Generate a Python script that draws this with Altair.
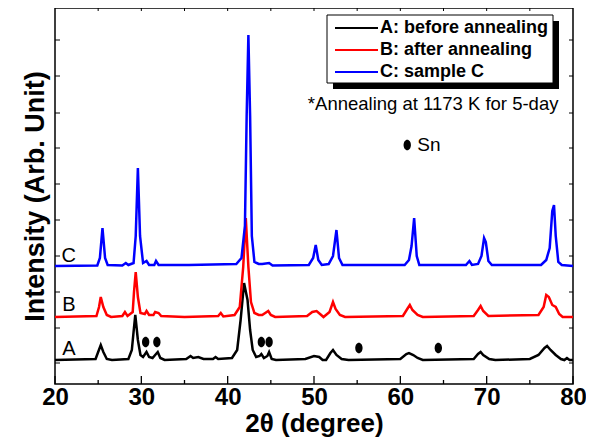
import altair as alt
import pandas as pd

FONT = "Liberation Sans, Arial, Helvetica, sans-serif"

series_names = ["A: before annealing", "B: after annealing", "C: sample C"]
series_colors = ["#000000", "#ff0000", "#0000ff"]
series_offsets = [24, 67, 118]
series_labels = ["A", "B", "C"]

# sample A (before annealing): 2theta, intensity above its own baseline
a_x = [20.0, 24.7, 25.0, 25.3, 25.6, 26.0, 26.6, 28.5, 28.9, 29.1, 29.3, 29.6, 29.9, 30.2, 30.6, 30.9,
       31.3, 31.7, 31.9, 32.2, 32.7, 35.2, 35.7, 36.0, 36.6, 37.2, 38.3, 38.6, 38.9, 40.5, 41.1, 41.5,
       41.9, 42.3, 42.6, 42.9, 43.3, 43.7, 43.9, 44.2, 44.6, 44.8, 45.1, 45.6, 49.0, 50.0, 50.6, 51.0,
       51.4, 51.9, 52.2, 52.6, 53.2, 54.0, 60.0, 60.7, 61.0, 61.5, 62.0, 62.6, 68.5, 69.0, 69.3, 69.6,
       70.3, 71.0, 75.0, 76.0, 76.7, 77.0, 77.4, 78.0, 78.6, 79.0, 79.3, 79.6, 80.0]
a_y = [0, 1, 8, 15, 8, 1, 0, 1, 10, 28, 45, 20, 5, 3, 8, 3,
       2, 6, 8, 2, 0, 1, 4, 2, 3, 1, 1, 3, 1, 2, 10, 40,
       77, 60, 30, 10, 3, 4, 6, 2, 4, 8, 1, 0, 1, 4, 3, 0,
       0, 7, 10, 5, 1, 0, 1, 6, 7, 5, 2, 0, 1, 6, 8, 5,
       1, 0, 1, 5, 12, 14, 10, 5, 1, 0, 2, 0, 0]

# sample B (after annealing)
b_x = [20.0, 24.8, 25.1, 25.3, 25.6, 26.0, 26.5, 27.8, 28.1, 28.4, 29.0, 29.15, 29.35, 29.6, 29.9, 30.4,
       30.6, 30.9, 31.4, 31.6, 32.0, 32.3, 35.0, 38.9, 39.2, 39.5, 40.8, 41.4, 41.8, 42.1, 42.4, 42.7,
       43.1, 43.6, 44.0, 44.7, 45.0, 45.5, 49.2, 49.8, 50.3, 50.7, 51.1, 51.8, 52.2, 52.5, 53.0, 53.6,
       60.3, 60.8, 61.1, 61.4, 62.0, 62.6, 68.5, 69.0, 69.3, 69.6, 70.2, 76.0, 76.6, 76.9, 77.2, 77.6,
       78.0, 78.4, 78.8, 80.0]
b_y = [0, 1, 10, 20, 10, 2, 0, 1, 5, 1, 5, 25, 45, 20, 4, 3,
       6, 2, 2, 5, 4, 1, 0, 1, 4, 0.5, 2, 10, 50, 99, 50, 15,
       4, 2, 2, 6, 2, 0, 1, 5, 6, 3, 0, 5, 15, 8, 2, 0,
       1, 8, 12, 7, 2, 0, 1, 7, 11, 6, 1, 2, 10, 22, 20, 12,
       10, 3, 0, 0]

# sample C
c_x = [20.0, 24.9, 25.2, 25.5, 25.8, 26.1, 27.8, 28.2, 28.5, 29.1, 29.35, 29.6, 29.85, 30.2, 30.6, 30.9,
       31.5, 31.7, 32.0, 34.4, 35.5, 41.0, 41.6, 42.0, 42.2, 42.4, 42.6, 42.8, 43.1, 43.6, 44.0, 44.8,
       45.2, 49.4, 49.9, 50.2, 50.5, 50.9, 51.7, 52.2, 52.6, 52.9, 53.3, 60.5, 61.0, 61.3, 61.6, 61.9,
       62.2, 67.6, 68.0, 68.3, 69.0, 69.4, 69.7, 69.9, 70.2, 70.6, 76.3, 76.9, 77.3, 77.6, 77.8, 78.0,
       78.3, 78.7, 80.0]
c_y = [0, 0.5, 8, 38, 8, 1, 0.5, 3, 1, 3, 30, 98, 30, 3, 5, 1,
       1, 5, 1, 1, 1, 2, 8, 40, 150, 231, 150, 30, 4, 2, 2, 3,
       0.5, 1, 8, 21, 6, 1, 2, 10, 36, 8, 1, 1, 6, 20, 48, 10,
       1, 1, 5, 1, 2, 10, 28, 24, 5, 1, 1, 6, 18, 55, 61, 30,
       4, 1, 0]

# Sn peak markers on curve A
sn_x = [30.5, 31.8, 43.9, 44.8, 55.2, 64.4]
sn_y = [42, 42, 42, 42, 36, 36]

# annotation content
note_text = "*Annealing at 1173 K for 5-day"
note_pos = (63.8, 280)
sn_key_pos = (60.8, 239)
label_x = 21.6
label_y = [35, 79, 128]

x_ticks_major = [20, 30, 40, 50, 60, 70, 80]
x_ticks_minor = [25, 35, 45, 55, 65, 75]
x_ticks_top = [25, 30, 35, 40, 45, 50, 55, 60, 65, 70, 75]
y_ticks = [21, 56, 92, 128, 164, 200, 236, 271, 308, 344]

W, H = 518, 376

rows = []
for name, xs, ys, off in zip(series_names, [a_x, b_x, c_x], [a_y, b_y, c_y], series_offsets):
    for i, (xv, yv) in enumerate(zip(xs, ys)):
        rows.append({"series": name, "x": xv, "y": yv + off, "order": i})
df = pd.DataFrame(rows)

xscale = alt.Scale(domain=[20, 80], nice=False, zero=False)
yscale = alt.Scale(domain=[0, H], nice=False, zero=False)

lines = alt.Chart(df).mark_line(strokeWidth=2.5, interpolate="linear").encode(
    x=alt.X("x:Q", scale=xscale,
            axis=alt.Axis(values=x_ticks_major, ticks=False, domain=False, grid=False,
                          labelFontSize=24, labelFontWeight="bold", labelFont=FONT,
                          labelPadding=1, labelColor="black", labelFlush=False,
                          title="2θ (degree)", titleFontSize=26, titleFontWeight="bold",
                          titleFont=FONT, titlePadding=1, titleColor="black")),
    y=alt.Y("y:Q", scale=yscale,
            axis=alt.Axis(labels=False, ticks=False, domain=False, grid=False,
                          title="Intensity (Arb. Unit)", titleFontSize=27, titleFontWeight="bold",
                          titleFont=FONT, titlePadding=6, titleColor="black")),
    color=alt.Color("series:N",
                    scale=alt.Scale(domain=series_names, range=series_colors),
                    legend=None),
    order="order:Q",
)

sn_df = pd.DataFrame({"x": sn_x, "y": sn_y})
ellipse = "M0,-1 A0.7,1 0 1,1 0,1 A0.7,1 0 1,1 0,-1 Z"
sn_pts = alt.Chart(sn_df).mark_point(shape=ellipse, filled=True, color="black", size=110, opacity=1).encode(
    x=alt.X("x:Q", scale=xscale), y=alt.Y("y:Q", scale=yscale))

key_df = pd.DataFrame({"x": [sn_key_pos[0]], "y": [sn_key_pos[1]], "t": ["Sn"]})
key_pt = alt.Chart(key_df).mark_point(shape=ellipse, filled=True, color="black", size=110, opacity=1).encode(
    x=alt.X("x:Q", scale=xscale), y=alt.Y("y:Q", scale=yscale))
key_txt = alt.Chart(key_df).mark_text(align="left", baseline="middle", dx=10, fontSize=19,
                                      font=FONT, color="black").encode(
    x=alt.X("x:Q", scale=xscale), y=alt.Y("y:Q", scale=yscale), text="t:N")

note_df = pd.DataFrame({"x": [note_pos[0]], "y": [note_pos[1]], "t": [note_text]})
note = alt.Chart(note_df).mark_text(align="center", baseline="middle", fontSize=18.5,
                                    font=FONT, color="black").encode(
    x=alt.X("x:Q", scale=xscale), y=alt.Y("y:Q", scale=yscale), text="t:N")

lab_df = pd.DataFrame({"x": [label_x] * 3, "y": label_y, "t": series_labels})
labs = alt.Chart(lab_df).mark_text(align="center", baseline="middle", fontSize=20,
                                   font=FONT, color="black").encode(
    x=alt.X("x:Q", scale=xscale), y=alt.Y("y:Q", scale=yscale), text="t:N")

# legend box (drawn by hand, with its drop shadow)
one = pd.DataFrame({"k": [0]})
shadow = alt.Chart(one).mark_rect(color="black").encode(
    x=alt.value(278), x2=alt.value(504), y=alt.value(13), y2=alt.value(81))
box = alt.Chart(one).mark_rect(fill="white", stroke="black", strokeWidth=1).encode(
    x=alt.value(272), x2=alt.value(498), y=alt.value(7), y2=alt.value(75))
legend_layers = []
for i, (name, col) in enumerate(zip(series_names, series_colors)):
    yy = 20 + 22 * i
    leg_df = pd.DataFrame({"t": [name]})
    legend_layers.append(alt.Chart(leg_df).mark_rule(color=col, strokeWidth=2).encode(
        x=alt.value(280), x2=alt.value(323), y=alt.value(yy)))
    legend_layers.append(alt.Chart(leg_df).mark_text(align="left", baseline="middle", fontSize=18,
                                                     fontWeight="bold", font=FONT, color="black").encode(
        x=alt.value(325), y=alt.value(yy), text="t:N"))

maj = alt.Chart(pd.DataFrame({"x": x_ticks_major})).mark_rule(color="black", strokeWidth=1.3).encode(
    x=alt.X("x:Q", scale=xscale), y=alt.value(H), y2=alt.value(H - 8))
mino = alt.Chart(pd.DataFrame({"x": x_ticks_minor})).mark_rule(color="black", strokeWidth=1.3).encode(
    x=alt.X("x:Q", scale=xscale), y=alt.value(H), y2=alt.value(H - 4))
top = alt.Chart(pd.DataFrame({"x": x_ticks_top})).mark_rule(color="black", strokeWidth=1).encode(
    x=alt.X("x:Q", scale=xscale), y=alt.value(0), y2=alt.value(3))
left = alt.Chart(pd.DataFrame({"y": y_ticks})).mark_rule(color="black", strokeWidth=1).encode(
    y=alt.Y("y:Q", scale=yscale), x=alt.value(0), x2=alt.value(5))
right = alt.Chart(pd.DataFrame({"y": y_ticks})).mark_rule(color="black", strokeWidth=1).encode(
    y=alt.Y("y:Q", scale=yscale), x=alt.value(W - 4), x2=alt.value(W))

chart = alt.layer(maj, mino, top, left, right, lines, sn_pts, key_pt, key_txt, note, labs,
                  shadow, box, *legend_layers).properties(
    width=W, height=H,
    autosize=alt.AutoSizeParams(type="none"),
    padding={"left": 47, "top": 0, "right": 13, "bottom": 55},
    background="white",
).configure_view(stroke="black", strokeWidth=1.5)

chart.save("out.html", embed_options={"renderer": "svg", "actions": False})
